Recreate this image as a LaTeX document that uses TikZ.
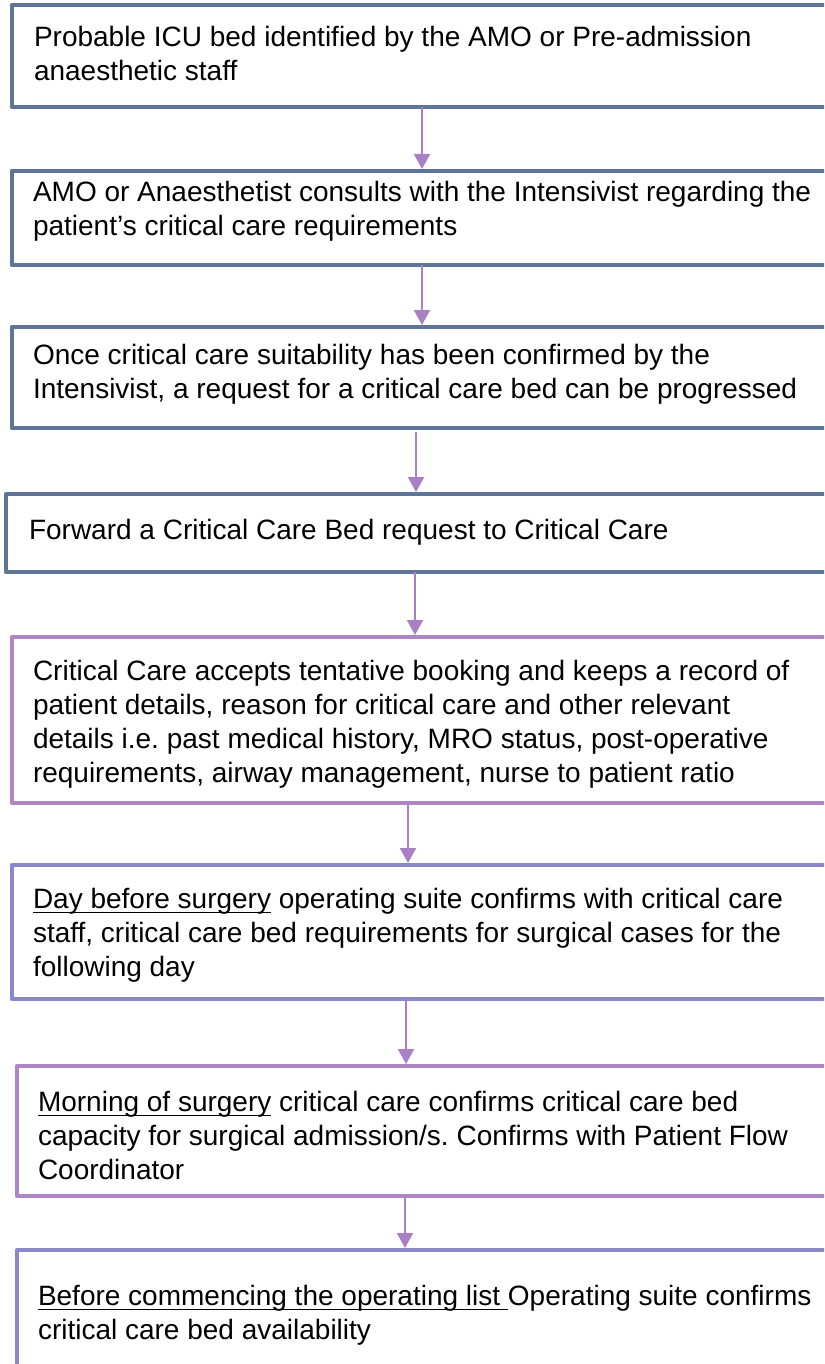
\documentclass[tikz,border=0pt]{standalone}
\usepackage{fontspec}
\setmainfont{Liberation Sans}
\usetikzlibrary{arrows.meta}
\definecolor{slate}{RGB}{94,117,152}
\definecolor{orchid}{RGB}{175,134,196}
\definecolor{iris}{RGB}{139,136,201}
\definecolor{linkc}{RGB}{170,128,196}
% underline at a fixed depth below the baseline
\newcommand\ulmark[1]{\setbox0\hbox{#1}\rlap{\rule[-4.5pt]{\wd0}{1.8pt}}\box0\relax}
\frenchspacing
\begin{document}
\begin{tikzpicture}[x=1pt,y=-1pt,
  box/.style={draw=#1, line width=4.5pt, line join=round, rectangle, inner sep=0pt, outer sep=0pt, anchor=north west, fill=white},
  txt/.style={anchor=north west, inner sep=0pt, outer sep=0pt, align=left, font=\fontsize{28}{34}\selectfont\frenchspacing},
  flow/.style={draw=linkc, line width=2pt, -{Triangle[width=16pt,length=15pt]}, shorten >=2pt}]
\useasboundingbox (0,0) rectangle (824,1364);
\clip (0,0) rectangle (824,1364);

% step boxes (they run on past the right edge)
\node[box=slate,  minimum width=838pt, minimum height=102pt] (b1) at (12,5) {};
\node[box=slate,  minimum width=838pt, minimum height=94pt]  (b2) at (12,171) {};
\node[box=slate,  minimum width=838pt, minimum height=101pt] (b3) at (12,327) {};
\node[box=slate,  minimum width=844pt, minimum height=78pt]  (b4) at (6,494) {};
\node[box=orchid, minimum width=838pt, minimum height=166pt] (b5) at (12,637) {};
\node[box=iris,   minimum width=838pt, minimum height=134pt] (b6) at (12,865) {};
\node[box=orchid, minimum width=833pt, minimum height=130pt] (b7) at (17,1066) {};
\node[box=iris,   minimum width=833pt, minimum height=150pt] (b8) at (17,1250) {};

% step texts
\node[txt] (t1) at (34,23) {\strut Probable ICU bed identified by the AMO or Pre-admission\\anaesthetic staff};
\node[txt] (t2) at (33,178) {\strut AMO or Anaesthetist consults with the Intensivist regarding the\\patient’s critical care requirements};
\node[txt] (t3) at (33,341) {\strut Once critical care suitability has been confirmed by the\\Intensivist, a request for a critical care bed can be progressed};
\node[txt] (t4) at (29,516) {\strut Forward a Critical Care Bed request to Critical Care};
\node[txt] (t5) at (33,657) {\strut Critical Care accepts tentative booking and keeps a record of\\patient details, reason for critical care and other relevant\\details i.e. past medical history, MRO status, post-operative\\requirements, airway management, nurse to patient ratio};
\node[txt] (t6) at (33,885) {\strut\ulmark{Day before surgery} operating suite confirms with critical care\\staff, critical care bed requirements for surgical cases for the\\following day};
\node[txt] (t7) at (38,1088) {\strut\ulmark{Morning of surgery} critical care confirms critical care bed\\capacity for surgical admission/s. Confirms with Patient Flow\\Coordinator};
\node[txt] (t8) at (38,1282) {\strut\ulmark{Before commencing the operating list }Operating suite confirms\\critical care bed availability};

% arrow columns
\coordinate (c1) at (422,0);
\coordinate (c2) at (422,0);
\coordinate (c3) at (416,0);
\coordinate (c4) at (415,0);
\coordinate (c5) at (408,0);
\coordinate (c6) at (406,0);
\coordinate (c7) at (405,0);

\draw[flow] (b1.south -| c1) -- (b2.north -| c1);
\draw[flow] (b2.south -| c2) -- (b3.north -| c2);
\draw[flow, shorten <=4pt] (b3.south -| c3) -- (b4.north -| c3);
\draw[flow] (b4.south -| c4) -- (b5.north -| c4);
\draw[flow] (b5.south -| c5) -- (b6.north -| c5);
\draw[flow] (b6.south -| c6) -- (b7.north -| c6);
\draw[flow] (b7.south -| c7) -- (b8.north -| c7);
\end{tikzpicture}
\end{document}
